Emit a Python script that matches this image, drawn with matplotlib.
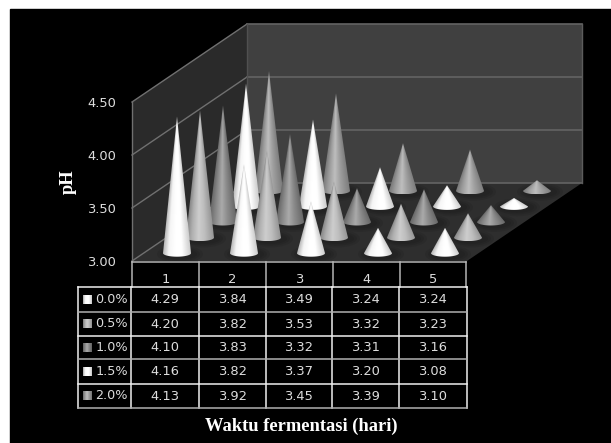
import numpy as np
import matplotlib
matplotlib.use('Agg')
import matplotlib.pyplot as plt
from matplotlib.patches import Polygon, Ellipse, Rectangle

days = ['1', '2', '3', '4', '5']
series = ['0.0%', '0.5%', '1.0%', '1.5%', '2.0%']
ph_00 = [4.29, 3.84, 3.49, 3.24, 3.24]
ph_05 = [4.20, 3.82, 3.53, 3.32, 3.23]
ph_10 = [4.10, 3.83, 3.32, 3.31, 3.16]
ph_15 = [4.16, 3.82, 3.37, 3.20, 3.08]
ph_20 = [4.13, 3.92, 3.45, 3.39, 3.10]
values = [ph_00, ph_05, ph_10, ph_15, ph_20]
yticks = [3.0, 3.5, 4.0, 4.5]

# grey levels across a cone, left edge to right edge
u_stops = [-1, -0.6, -0.1, 0.35, 1]
shades = [[185, 245, 255, 255, 205],
          [135, 175, 205, 190, 150],
          [105, 135, 170, 140, 105],
          [185, 245, 255, 255, 205],
          [120, 155, 190, 160, 125]]

# oblique projection in pixels
X0, Y0 = 132, 261
CAT_W, DX, DY, UNIT = 67, 23, 15.6, 106


def proj(day, row, v=3.0):
    x = X0 + CAT_W * day + DX * row
    y = Y0 - DY * row - UNIT * (v - 3.0)
    return x, y


fig = plt.figure(figsize=(6.11, 4.43), dpi=100, facecolor='white')
ax = fig.add_axes([0, 0, 1, 1])
ax.set_xlim(0, 611)
ax.set_ylim(443, 0)
ax.axis('off')
ax.add_patch(Rectangle((10, 9), 601, 434, color='black', zorder=0))

# walls and floor
top = yticks[-1]
ax.add_patch(Polygon([proj(0, 0), proj(0, 5), proj(0, 5, top), proj(0, 0, top)], color='#2a2a2a', lw=0, zorder=1))
ax.add_patch(Polygon([proj(0, 5), proj(5, 5), proj(5, 5, top), proj(0, 5, top)], color='#404040', lw=0, zorder=1))
ax.add_patch(Polygon([proj(0, 0), proj(5, 0), proj(5, 5), proj(0, 5)], color='#2e2e2e', lw=0, zorder=1))

for t in yticks:
    a, b, c = proj(0, 0, t), proj(0, 5, t), proj(5, 5, t)
    ax.plot([a[0], b[0]], [a[1], b[1]], color='#707070', lw=1, zorder=2)
    ax.plot([b[0], c[0]], [b[1], c[1]], color='#636363', lw=1.2, zorder=2)
    ax.text(116, a[1] + 1, '%.2f' % t, color='#dddddd', fontsize=9.4, ha='right', va='center')
ax.plot([X0, X0], [proj(0, 0)[1], proj(0, 0, top)[1]], color='#707070', lw=1, zorder=2)
ax.plot([proj(0, 5)[0]] * 2, [proj(0, 5)[1], proj(0, 5, top)[1]], color='#505050', lw=1, zorder=2)
ax.plot([proj(5, 5)[0]] * 2, [proj(5, 5)[1], proj(5, 5, top)[1]], color='#5c5c5c', lw=1, zorder=2)

# cones, back row first
R, RY = 14, 3.5
z = 3
for row in range(len(series) - 1, -1, -1):
    for day in range(len(days)):
        cx, by = proj(day + 0.5, row + 0.5)
        tip = proj(day + 0.5, row + 0.5, values[row][day])[1]
        for k, extra in enumerate([9, 6, 3]):
            ax.add_patch(Ellipse((cx + 3, by + 1), 2 * (R + extra), 2 * (RY + extra * 0.6),
                                 color='black', alpha=0.08, lw=0, zorder=z))
        z += 1
        xs = np.linspace(cx - R, cx + R, 57)
        ys = np.linspace(tip, by + RY, max(int(by + RY - tip) * 2, 4))
        gx, gy = np.meshgrid(xs, ys)
        hw = np.maximum(R * (gy - tip) / (by - tip), 0.05)
        hw = np.minimum(hw, R)
        u = np.clip((gx - cx) / hw, -1, 1)
        grey = np.interp(u, u_stops, shades[row]) / 255.0
        im = ax.imshow(grey, cmap='gray', vmin=0, vmax=1, extent=(cx - R, cx + R, by + RY, tip),
                       aspect='auto', interpolation='bilinear', zorder=z)
        t = np.linspace(np.pi, 0, 30)
        outline = [(cx, tip)] + list(zip(cx + R * np.cos(t), by + RY * np.sin(t)))
        clip = Polygon(outline, closed=True, transform=ax.transData, fc='none', ec='none', zorder=z)
        ax.add_patch(clip)
        im.set_clip_path(clip)
        z += 1
ax.set_xlim(0, 611)
ax.set_ylim(443, 0)

# data table
col_x = [131, 198.5, 265.5, 332, 398.5, 467]
head_x = [132, 199, 266, 333, 399.5, 466]
row_y = [287, 311.5, 335.5, 359, 383.5, 407.5]
LZ = 500
for x in head_x:
    ax.plot([x, x], [262, 287], color='#b5b5b5', lw=1.1, zorder=LZ)
ax.plot([132, 466], [261.5, 261.5], color='#b5b5b5', lw=1.1, zorder=LZ)
for x in [78] + col_x:
    ax.plot([x, x], [row_y[0], row_y[-1]], color='#f0f0f0', lw=1.1, zorder=LZ)
for i, y in enumerate(row_y):
    ax.plot([78, 467], [y, y], color='#f0f0f0' if i % 2 == 0 else '#b0b0b0', lw=1.1, zorder=LZ)

for j, d in enumerate(days):
    ax.text((head_x[j] + head_x[j + 1]) / 2, 279.5, d, color='#dddddd', fontsize=9.4, ha='center', va='center', zorder=LZ)
for i, name in enumerate(series):
    yc = (row_y[i] + row_y[i + 1]) / 2
    key = np.interp(np.linspace(-1, 1, 9), u_stops, shades[i]) / 255.0
    ax.imshow(np.tile(key, (9, 1)), cmap='gray', vmin=0, vmax=1, extent=(83, 92, yc + 4.5, yc - 4.5),
              aspect='auto', interpolation='bilinear', zorder=LZ)
    ax.text(95.5, yc, name, color='#dddddd', fontsize=9.2, ha='left', va='center', zorder=LZ)
    for j in range(len(days)):
        ax.text((col_x[j] + col_x[j + 1]) / 2, yc + 0.5, '%.2f' % values[i][j], color='#dddddd',
                fontsize=9.4, ha='center', va='center', zorder=LZ)
ax.set_xlim(0, 611)
ax.set_ylim(443, 0)

ax.text(301, 426, 'Waktu fermentasi (hari)', color='white', family='Liberation Serif', weight='bold',
        fontsize=13.3, ha='center', va='center')
ax.text(68, 182, 'pH', color='white', family='Liberation Serif', weight='bold',
        fontsize=13.3, rotation=90, ha='center', va='center')

fig.savefig('out.png', dpi=100, facecolor=fig.get_facecolor())
